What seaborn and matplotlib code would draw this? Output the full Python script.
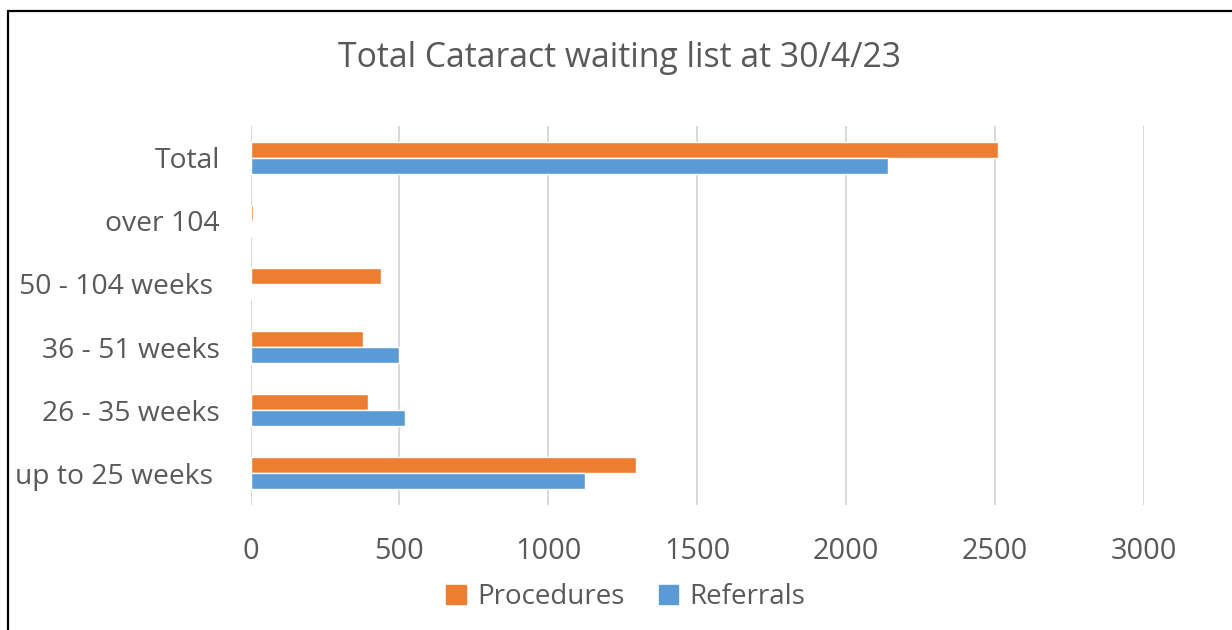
import matplotlib
matplotlib.use("Agg")
import matplotlib.pyplot as plt
from matplotlib.lines import Line2D
import pandas as pd
import seaborn as sns

# data
categories = ["Total", "over 104", "50 - 104 weeks ", "36 - 51 weeks", "26 - 35 weeks", "up to 25 weeks "]
procedures = [2511, 8, 438, 377, 395, 1294]
referrals = [2141, 0, 0, 498, 520, 1123]
series = ["Procedures", "Referrals"]
colors = ["#ED7D31", "#5B9BD5"]
xticks = [0, 500, 1000, 1500, 2000, 2500, 3000]

df = pd.DataFrame({
    "category": categories * 2,
    "value": procedures + referrals,
    "series": [series[0]] * len(categories) + [series[1]] * len(categories),
})

sns.set_theme(style="white")
plt.rcParams["font.family"] = ["Open Sans", "DejaVu Sans"]
text_color = "#595959"

fig = plt.figure(figsize=(12.32, 6.3), dpi=100)
ax = fig.add_axes([250.5 / 1232, 1 - 505 / 630, 893.2 / 1232, 379 / 630])

sns.barplot(data=df, y="category", x="value", hue="series", order=categories,
            hue_order=series, palette=colors, width=0.506, ax=ax,
            orient="h", saturation=1, legend=False)

ax.set_xlim(0, 3000)
ax.set_xticks(xticks)
ax.set_xticklabels([str(t) for t in xticks])
ax.xaxis.grid(True, color="#D9D9D9", linewidth=1.4)
ax.set_axisbelow(True)
for s in ax.spines.values():
    s.set_visible(False)
ax.set_xlabel("")
ax.set_ylabel("")
ax.tick_params(axis="y", length=0, pad=22, labelsize=20.3, labelcolor=text_color)
ax.tick_params(axis="x", length=0, pad=23, labelsize=20.8, labelcolor=text_color)

fig.text(0.503, 1 - 58 / 630, "Total Cataract waiting list at 30/4/23",
         ha="center", va="center", fontsize=24.3, color=text_color)

handles = [plt.Rectangle((0, 0), 1, 1, color=c) for c in colors]
fig.legend(handles, series, loc="center", bbox_to_anchor=(0.508, 1 - 597 / 630),
           ncol=2, frameon=False, fontsize=20, labelcolor=text_color,
           handlelength=0.7, handleheight=0.7, handletextpad=0.4, columnspacing=1.25)

# frame lines around the picture
fig.add_artist(Line2D([8 / 1232, 8 / 1232], [0, 1 - 10.5 / 630], color="black", linewidth=1.6))
fig.add_artist(Line2D([8 / 1232, 1], [1 - 10.5 / 630, 1 - 10.5 / 630], color="black", linewidth=1.6))

fig.savefig("out.png", dpi=100, facecolor="white")
